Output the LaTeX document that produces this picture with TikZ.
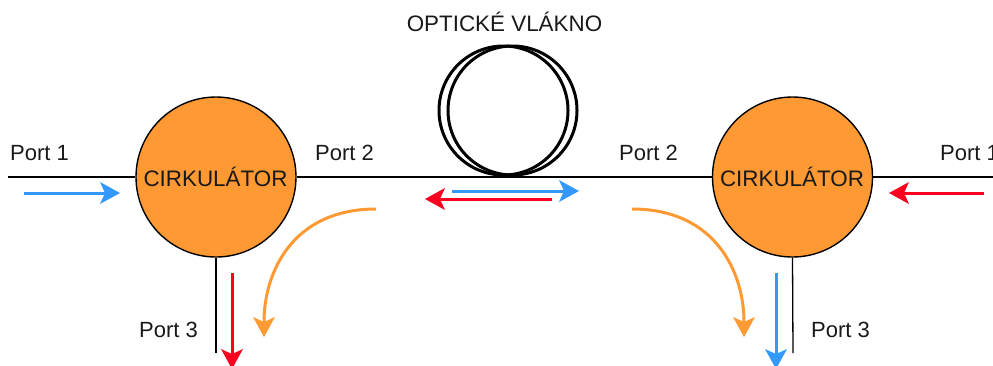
\documentclass[tikz,border=0pt]{standalone}
\usepackage{fontspec}
\setmainfont{Liberation Sans}
\usetikzlibrary{arrows.meta}
\definecolor{circorange}{HTML}{FF9933}
\definecolor{sigblue}{HTML}{3399FF}
\definecolor{sigred}{HTML}{F90021}
\tikzset{
  x=1pt,y=-1pt,
  circ/.style={circle,draw=black,line width=1.4pt,fill=circorange,minimum size=160pt,inner sep=0pt},
  fiber/.style={circle,draw=black,line width=3pt,fill=none,minimum size=129pt,inner sep=0pt},
  wire/.style={draw=black,line width=1.3pt},
  sig/.style={line width=3pt,-{Stealth[length=20pt,width=22pt,inset=5pt,line width=0pt]}},
  lab/.style={font=\fontsize{22}{24}\selectfont,text=black!90,inner sep=0pt},
  caps/.style={font=\fontsize{22.4}{24}\selectfont,text=black!90,inner sep=0pt}
}
\begin{document}
\begin{tikzpicture}
\useasboundingbox (0,0) rectangle (993,365);
\clip (0,0) rectangle (993,365);
% wire ends
\coordinate (wl) at (8,177);
\coordinate (wr) at (1000,177);
\coordinate (p3l) at (216,353);
\coordinate (p3r) at (793,353);
% circulators and wires
\node[circ] (cl) at (216,177) {};
\node[circ] (cr) at (792.5,177) {};
\draw[wire] (wl) -- (cl.west);
\draw[wire] (cl.east) -- (cr.west);
\draw[wire] (cr.east) -- (wr);
\draw[wire] (cl.south) -- (p3l);
\draw[wire] (cr.south) -- (p3r);
\node[caps] (tl) at (215.5,177) {CIRKULÁTOR};
\node[caps] (tr) at (792,177) {CIRKULÁTOR};
% fibre
\node[fiber] (f1) at (503.5,110.5) {};
\node[fiber] (f2) at (512.5,110.5) {};
\node[caps] (title) at (504.5,22) {OPTICKÉ VLÁKNO};
% labels
\node[lab,anchor=base west] (p1l) at (10,160) {Port 1};
\node[lab,anchor=base west] (p2l) at (315,160) {Port 2};
\node[lab,anchor=base west] (p2r) at (619,160) {Port 2};
\node[lab,anchor=base west] (p1r) at (940,160) {Port 1};
\node[lab,anchor=base west] (p3ll) at (139,337) {Port 3};
\node[lab,anchor=base west] (p3rl) at (811,337) {Port 3};
% signal arrow ends
\coordinate (a1) at (24,193); \coordinate (a2) at (120,193);
\coordinate (b1) at (452,191); \coordinate (b2) at (579,191);
\coordinate (c1) at (552,199); \coordinate (c2) at (425,199);
\coordinate (d1) at (984,193); \coordinate (d2) at (889,193);
\coordinate (e1) at (232,273); \coordinate (e2) at (232,369);
\coordinate (g1) at (776,273); \coordinate (g2) at (776,369);
\coordinate (h1) at (376,209); \coordinate (h2) at (264,337);
\coordinate (i1) at (632,209); \coordinate (i2) at (744,337);
% signal arrows
\draw[sig,draw=sigblue] (a1) -- (a2);
\draw[sig,draw=sigblue] (b1) -- (b2);
\draw[sig,draw=sigred] (c1) -- (c2);
\draw[sig,draw=sigred] (d1) -- (d2);
\draw[sig,draw=sigred] (e1) -- (e2);
\draw[sig,draw=sigblue] (g1) -- (g2);
\draw[sig,draw=circorange] (h1) .. controls (292,209) and (264,273) .. (h2);
\draw[sig,draw=circorange] (i1) .. controls (716,209) and (744,273) .. (i2);
\end{tikzpicture}
\end{document}
